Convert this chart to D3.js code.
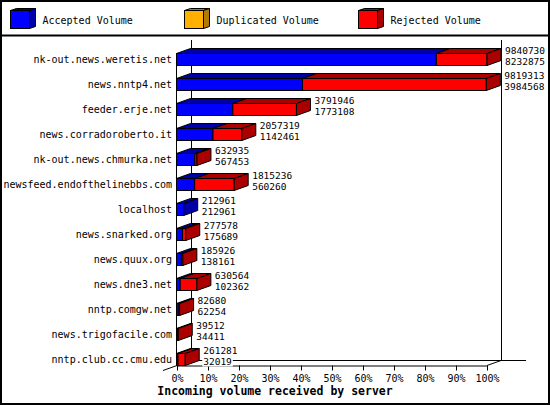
<!DOCTYPE html>
<html>
<head>
<meta charset="utf-8">
<script src="https://cdn.jsdelivr.net/npm/d3@7"></script>
<style>
  body { margin: 0; background: #fff; }
  text { font-family: "DejaVu Sans Mono", monospace; }
</style>
</head>
<body>
<div id="chart"></div>
<script>
var hosts = ["nk-out.news.weretis.net", "news.nntp4.net", "feeder.erje.net", "news.corradoroberto.it",
  "nk-out.news.chmurka.net", "newsfeed.endofthelinebbs.com", "localhost", "news.snarked.org",
  "news.quux.org", "news.dne3.net", "nntp.comgw.net", "news.trigofacile.com", "nntp.club.cc.cmu.edu"];
var totalVolume = [9840730, 9819313, 3791946, 2057319, 632935, 1815236, 212961, 277578, 185926, 630564, 82680, 39512, 261281];
var acceptedVolume = [8232875, 3984568, 1773108, 1142461, 567453, 560260, 212961, 175689, 138161, 102362, 62254, 34411, 32019];
var duplicatedVolume = [0, 0, 0, 0, 0, 0, 0, 0, 0, 0, 0, 0, 0];
var percentTicks = [0, 10, 20, 30, 40, 50, 60, 70, 80, 90, 100];
var legendNames = ["Accepted Volume", "Duplicated Volume", "Rejected Volume"];
var legendColors = [["#0000ff", "#0000a8"], ["#ffb000", "#b07b00"], ["#ff0000", "#aa0000"]];

var W = 550, H = 405;
var dx = 14, dy = 5; // 3d depth
var plotLeft = 177, plotRight = 487, plotTop = 40, plotFloor = 365;

var svg = d3.select("#chart").append("svg").attr("width", W).attr("height", H);

var x = d3.scaleLinear().domain([0, d3.max(totalVolume)]).range([plotLeft, plotRight]);
var pct = d3.scaleLinear().domain([0, 100]).range([plotLeft, plotRight]);
var y = d3.scaleBand().domain(hosts).range([plotTop, plotFloor]).padding(0);

// frame + legend separator
svg.append("rect").attr("x", 1).attr("y", 1).attr("width", W - 2).attr("height", H - 2)
  .attr("fill", "none").attr("stroke", "#000").attr("stroke-width", 2);
svg.append("line").attr("x1", 0).attr("x2", W).attr("y1", 35.5).attr("y2", 35.5)
  .attr("stroke", "#000").attr("stroke-width", 2);

// legend
var leg = svg.selectAll("g.leg").data(legendNames).enter().append("g")
  .attr("transform", function(d, i) { return "translate(" + (10.5 + i * 174) + ",10.5)"; });
leg.each(function(d, i) {
  var g = d3.select(this), c = legendColors[i];
  g.append("polygon").attr("points", "0,0 6,-2 25,-2 19,0").attr("fill", c[1]).attr("stroke", "#000");
  g.append("polygon").attr("points", "19,0 25,-2 25,16 19,18").attr("fill", c[1]).attr("stroke", "#000");
  g.append("rect").attr("width", 19).attr("height", 18).attr("fill", c[0]).attr("stroke", "#000");
  g.append("text").attr("x", 32).attr("y", 13.5).attr("font-size", 10).text(d);
});

// back walls and floor
var back = svg.append("g").attr("stroke", "#000").attr("fill", "none");
back.append("line").attr("x1", plotLeft + dx + 0.5).attr("x2", plotLeft + dx + 0.5).attr("y1", plotTop).attr("y2", plotFloor - dy);
back.append("line").attr("x1", plotRight + dx + 0.5).attr("x2", plotRight + dx + 0.5).attr("y1", plotTop).attr("y2", plotFloor - dy);
back.append("line").attr("x1", plotLeft + dx).attr("x2", 526).attr("y1", plotFloor - dy + 0.5).attr("y2", plotFloor - dy + 0.5);
back.append("line").attr("x1", plotRight).attr("x2", plotRight + dx).attr("y1", plotFloor + 0.5).attr("y2", plotFloor - dy + 0.5);
back.append("line").attr("x1", plotLeft - 14).attr("x2", plotLeft).attr("y1", plotFloor + 5.5).attr("y2", plotFloor + 0.5);
back.append("line").attr("x1", plotLeft - 0.5).attr("x2", plotLeft - 0.5).attr("y1", plotTop + 13).attr("y2", plotFloor);

// axis
var axis = svg.append("g").attr("transform", "translate(0," + (plotFloor + 0.5) + ")")
  .call(d3.axisBottom(pct).tickValues(percentTicks).tickFormat(function(d) { return d + "%"; })
    .tickSize(5).tickSizeOuter(0).tickPadding(4));
axis.selectAll("text").attr("font-size", 10).attr("font-family", "DejaVu Sans Mono").attr("fill", "#000");
axis.select(".domain").attr("stroke", "#000");

// host labels
svg.append("g").selectAll("text").data(hosts).enter().append("text")
  .attr("x", 172).attr("y", function(d) { return y(d) + 13 + 6 + 3.5; })
  .attr("text-anchor", "end").attr("font-size", 10).text(function(d) { return d; });

// bars
function box(g, x0, x1, yt, yb, front, dark, withSide) {
  g.append("polygon")
    .attr("points", [[x0, yt], [x1, yt], [x1 + dx, yt - dy], [x0 + dx, yt - dy]].join(" "))
    .attr("fill", dark).attr("stroke", "#000");
  g.append("rect").attr("x", x0).attr("y", yt).attr("width", x1 - x0).attr("height", yb - yt)
    .attr("fill", front).attr("stroke", "#000");
  if (withSide) {
    g.append("polygon")
      .attr("points", [[x1, yt], [x1 + dx, yt - dy], [x1 + dx, yb - dy], [x1, yb]].join(" "))
      .attr("fill", dark).attr("stroke", "#000");
  }
}

var bars = svg.append("g");
hosts.forEach(function(h, i) {
  var yt = y(h) + 13.5, yb = yt + 12;
  var xa = x(acceptedVolume[i]), xd = x(acceptedVolume[i] + duplicatedVolume[i]), xt = x(totalVolume[i]);
  var g = bars.append("g");
  var x0 = plotLeft - 0.5;
  if (xa > x0) box(g, x0, xa, yt, yb, legendColors[0][0], legendColors[0][1], xd <= xa && xt <= xa);
  if (xd > xa) box(g, xa, xd, yt, yb, legendColors[1][0], legendColors[1][1], xt <= xd);
  if (xt > xd) box(g, Math.max(xd, x0), xt, yt, yb, legendColors[2][0], legendColors[2][1], true);

  var tx = xt + dx + 4;
  [totalVolume[i], acceptedVolume[i]].forEach(function(v, k) {
    var t = g.append("text").attr("x", tx).attr("y", k === 0 ? yt + 0.5 : yb - 0.5)
      .attr("font-size", 9.5).text(v);
    var w = t.node().getComputedTextLength();
    g.insert("rect", function() { return t.node(); })
      .attr("x", tx - 1).attr("y", (k === 0 ? yt : yb) - 8).attr("width", w + 2).attr("height", 9)
      .attr("fill", "#fff");
  });
});

// title
svg.append("text").attr("x", W / 2).attr("y", 395).attr("text-anchor", "middle")
  .attr("font-size", 11.5).attr("font-weight", "bold").text("Incoming volume received by server");
</script>
</body>
</html>
